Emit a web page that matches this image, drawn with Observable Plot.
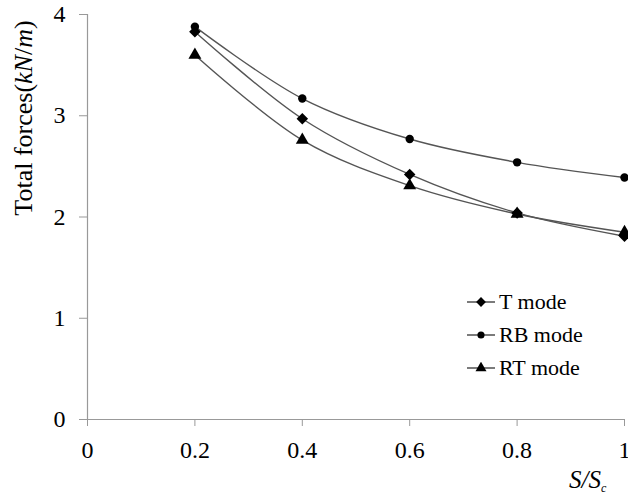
<!DOCTYPE html>
<html><head><meta charset="utf-8">
<script src="https://cdn.jsdelivr.net/npm/d3@7"></script>
<script src="https://cdn.jsdelivr.net/npm/@observablehq/plot@0.6"></script>
<style>
body{margin:0;background:#fff;font-family:"Liberation Serif","Times New Roman",Times,"DejaVu Serif",serif;}
#wrap{position:relative;width:628px;height:498px;}
.ylab{position:absolute;left:24px;top:118px;transform:translate(-50%,-50%) rotate(-90deg);white-space:nowrap;font-size:26px;line-height:1;color:#000;}
.xlab{position:absolute;left:569px;top:467px;white-space:nowrap;font-size:25px;line-height:1;font-style:italic;color:#000;}
.xlab sub{font-size:12px;vertical-align:-4px;}
.legend{position:absolute;left:466px;top:285px;}
.legend .row{display:flex;align-items:center;height:33px;font-size:22px;color:#000;}
.legend svg{margin-right:3px;}
</style>
</head><body>
<div id="wrap"></div>
<script>
const ratios = [0.2, 0.4, 0.6, 0.8, 1.0];
const tMode = [3.83, 2.97, 2.42, 2.04, 1.81];
const rbMode = [3.88, 3.17, 2.77, 2.54, 2.39];
const rtMode = [3.60, 2.76, 2.31, 2.03, 1.85];
const seriesNames = ["T mode", "RB mode", "RT mode"];
const xTicks = [0, 0.2, 0.4, 0.6, 0.8, 1];
const yTicks = [0, 1, 2, 3, 4];

const seriesValues = [tMode, rbMode, rtMode];
const data = [];
seriesNames.forEach((s, i) => ratios.forEach((r, j) => data.push({series: s, x: r, y: seriesValues[i][j]})));

// marker styling per series (diamond = rotated square)
const markerStyle = [
  {symbol: "square", rotate: 45, r: 4.6},
  {symbol: "circle", rotate: 0, r: 4.2},
  {symbol: "triangle", rotate: 0, r: 4.8}
];

const FONT = '"Liberation Serif","Times New Roman",Times,"DejaVu Serif",serif';
const chart = Plot.plot({
  width: 628, height: 498,
  marginLeft: 87, marginRight: 4, marginTop: 14, marginBottom: 79,
  x: {domain: [0, 1]},
  y: {domain: [0, 4]},
  style: {fontFamily: FONT, fontSize: "24px", color: "black", background: "white"},
  marks: [
    Plot.ruleX([0], {stroke: "#999", strokeWidth: 1.2}),
    Plot.ruleY([0], {stroke: "#999", strokeWidth: 1.2}),
    Plot.axisX(xTicks, {tickSize: 7, tickPadding: 14, stroke: "#999", fill: "black", label: null, tickFormat: d => String(d)}),
    Plot.axisY(yTicks, {tickSize: 8, tickPadding: 14, stroke: "#999", fill: "black", label: null, tickFormat: d => String(d)}),
    Plot.line(data, {x: "x", y: "y", z: "series", curve: "catmull-rom", stroke: "#555", strokeWidth: 1.4}),
    ...seriesNames.map((s, i) => Plot.dot(data.filter(d => d.series === s), {
      x: "x", y: "y", symbol: markerStyle[i].symbol, rotate: markerStyle[i].rotate, r: markerStyle[i].r, fill: "black", stroke: "none"
    }))
  ]
});
const wrap = document.getElementById("wrap");
wrap.appendChild(chart);

const yl = document.createElement("div");
yl.className = "ylab";
yl.innerHTML = 'Total forces(<i>kN</i>/<i>m</i>)';
wrap.appendChild(yl);

const xl = document.createElement("div");
xl.className = "xlab";
xl.innerHTML = 'S/S<sub>c</sub>';
wrap.appendChild(xl);

const symMap = {square: d3.symbolSquare, circle: d3.symbolCircle, triangle: d3.symbolTriangle};
const leg = document.createElement("div");
leg.className = "legend";
seriesNames.forEach((s, i) => {
  const m = markerStyle[i];
  const row = document.createElement("div");
  row.className = "row";
  const svg = d3.create("svg").attr("width", 30).attr("height", 12);
  svg.append("line").attr("x1", 1).attr("x2", 29).attr("y1", 6).attr("y2", 6).attr("stroke", "#333").attr("stroke-width", 1.3);
  svg.append("path").attr("d", d3.symbol(symMap[m.symbol], Math.PI * (m.r * 0.85) ** 2)())
    .attr("transform", `translate(15,6) rotate(${m.rotate})`).attr("fill", "black");
  row.appendChild(svg.node());
  const t = document.createElement("span");
  t.textContent = s;
  row.appendChild(t);
  leg.appendChild(row);
});
wrap.appendChild(leg);
</script>
</body></html>
